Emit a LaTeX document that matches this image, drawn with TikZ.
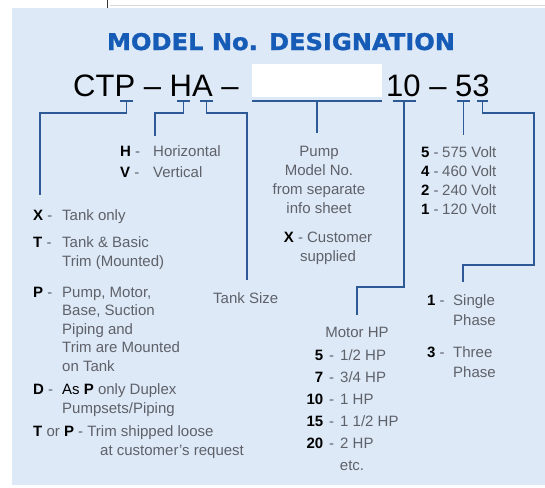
\documentclass[tikz,border=0pt]{standalone}
\usepackage{xcolor}
\usepackage{fontspec}
\setmainfont{Liberation Sans}
\newfontfamily\titlefont[FakeStretch=1.05, FakeBold=1.4]{DejaVu Sans Bold}
\usepackage{tikz}
\usetikzlibrary{positioning, calc}

\definecolor{panelblue}{RGB}{221,233,247}
\definecolor{titleblue}{RGB}{22,92,182}
\definecolor{leadblue}{RGB}{45,90,150}
\definecolor{notegray}{RGB}{95,97,105}

% bold option letter followed by its dash, in a box of fixed width
\newcommand{\sel}[2][29pt]{\makebox[#1][l]{\textcolor{black}{\textbf{#2}} -}}
\newcommand{\hp}[2]{\makebox[20pt][r]{\textcolor{black}{\textbf{#1}}}\makebox[17pt][c]{-}#2}

\begin{document}
\begin{tikzpicture}[
    x=1pt, y=-1pt,
    panel/.style={fill=panelblue, draw=none},
    heading/.style={font=\titlefont\fontsize{23}{26}\selectfont, text=titleblue, inner sep=0pt, anchor=base},
    codeline/.style={font=\fontsize{31}{34}\selectfont, text=black, inner sep=0pt, anchor=base west},
    note/.style={font=\fontsize{15}{18.5}\selectfont, text=notegray, inner sep=0pt, anchor=base west, align=left},
    cnote/.style={note, anchor=base, align=center},
    lead/.style={draw=leadblue, line width=1.5pt},
]
\useasboundingbox (0,0) rectangle (545,487);

% Background panel
\fill[panel] (12,8) rectangle (545,485);
\draw[black!80, line width=1pt] (107,0) -- (107,8);
\draw[black!15, line width=0.6pt] (110,5) -- (545,5);

% Heading and model number
\node[heading] (title) at (281,50) {MODEL No. DESIGNATION};
\node[codeline] (prefix) at (73,96) {CTP -- HA --};
\node[fill=white, inner sep=0pt, minimum width=130pt, minimum height=33pt, anchor=north west] (blank) at (252,64) {};
\node[codeline] (suffix) at (386,96) {10 -- 53};

% Left column: tank options (multi-line nodes sit on their last baseline)
\node[note] (optX) at (33,220) {\sel{X}Tank only};
\node[note] (optT) at (33,266) {\sel{T}Tank \& Basic\\\hspace*{29pt}Trim (Mounted)};
\node[note] (optP) at (33,371) {\sel{P}Pump, Motor,\\\hspace*{29pt}Base, Suction\\\hspace*{29pt}Piping and\\\hspace*{29pt}Trim are Mounted\\\hspace*{29pt}on Tank};
\node[note] (optD) at (33,413) {\sel{D}\textcolor{black}{As \textbf{P}} only Duplex\\\hspace*{29pt}Pumpsets/Piping};
\node[note] (optTP) at (33,455) {\textcolor{black}{\textbf{T}} or \textcolor{black}{\textbf{P}} - Trim shipped loose\\\hspace*{67pt}at customer's request};

% Orientation and tank size
\node[note, font=\fontsize{15}{21}\selectfont] (orient) at (120,177) {\sel[33pt]{H}Horizontal\\\sel[33pt]{V}Vertical};
\node[note] (tank) at (213,303) {Tank Size};

% Pump model
\node[cnote, font=\fontsize{15}{18.7}\selectfont] (pump) at (319,213) {Pump\\Model No.\\from separate\\info sheet};
\node[cnote] (cust) at (328,261) {\textcolor{black}{\textbf{X}} - Customer\\supplied};

% Motor HP
\node[cnote] (motor) at (357,337) {Motor HP};
\node[note, font=\fontsize{15}{22}\selectfont] (hplist) at (303,448) {\hp{5}{1/2 HP}\\\hp{7}{3/4 HP}\\\hp{10}{1 HP}\\\hp{15}{1 1/2 HP}\\\hp{20}{2 HP}};
\node[cnote] (etc) at (352,470) {etc.};

% Voltage and phase
\node[note, font=\fontsize{15}{19}\selectfont] (volt) at (421,214) {\sel[21pt]{5}575 Volt\\\sel[21pt]{4}460 Volt\\\sel[21pt]{2}240 Volt\\\sel[21pt]{1}120 Volt};
\node[note, font=\fontsize{15}{20}\selectfont] (single) at (427,325) {\sel[26pt]{1}Single\\\hspace*{26pt}Phase};
\node[note, font=\fontsize{15}{20}\selectfont] (three) at (427,377) {\sel[26pt]{3}Three\\\hspace*{26pt}Phase};

% Tick points under the model number, line ends and knees
\coordinate (tP) at (126.5,101);
\coordinate (tH) at (183.5,101);
\coordinate (tA) at (206.5,101);
\coordinate (tM) at (317,101);
\coordinate (t10) at (404,101);
\coordinate (t5) at (463.5,101);
\coordinate (t3) at (482.5,101);
\coordinate (eX) at (40,195);
\coordinate (eH) at (155,136);
\coordinate (eA) at (247,280);
\coordinate (eM) at (317,133);
\coordinate (k10) at (404,287);
\coordinate (e10) at (357,315);
\coordinate (e5) at (463.5,135);
\coordinate (k3) at (534,265);
\coordinate (e3) at (463,282);

% Ticks
\foreach \t/\w in {tP/6.5, tH/6.5, tA/6.5, t10/11.5, t5/6.5, t3/5.5}
    \draw[lead] ([xshift=-\w pt]\t) -- ([xshift=\w pt]\t);
\draw[lead] (blank.south west |- tM) -- (blank.south east |- tM);

% Leads
\draw[lead] (tP) -- ++(0,12) -| (eX);
\draw[lead] (tH) -- ++(0,12) -| (eH);
\draw[lead] (tA) -- ++(0,12) -| (eA);
\draw[lead] (tM) -- (eM);
\draw[lead] (t10) -- (k10) -| (e10);
\draw[lead] (t5) -- (e5);
\draw[lead] (t3) -- ++(0,12) -| (k3) -| (e3);

\end{tikzpicture}
\end{document}
